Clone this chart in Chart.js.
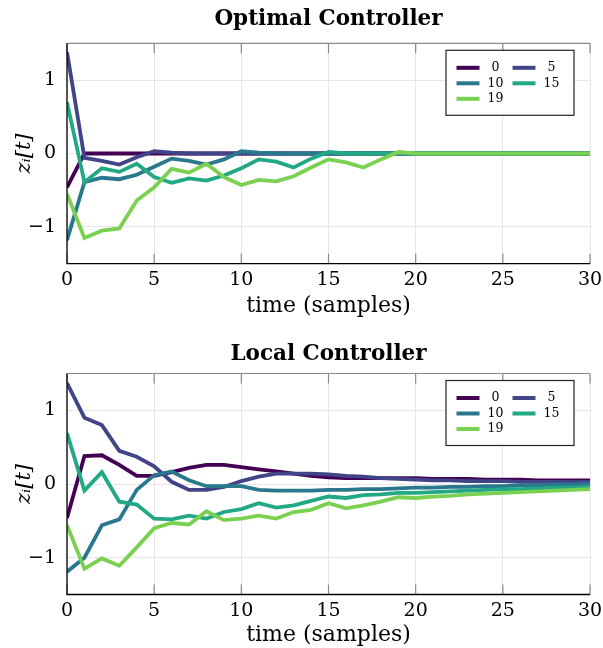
<!DOCTYPE html>
<html>
<head>
  <title>Controllers</title>
  <script src="https://cdn.jsdelivr.net/npm/chart.js@4"></script>
  <style>
    body { margin: 0; background: #fff; }
    .box { position: absolute; left: 0; width: 603px; height: 324px; }
  </style>
</head>
<body>
  <div class="box" style="top:0"><canvas id="optimal"></canvas></div>
  <div class="box" style="top:324px"><canvas id="local"></canvas></div>
  <script>
    const steps = [0,1,2,3,4,5,6,7,8,9,10,11,12,13,14,15,16,17,18,19,20,21,22,23,24,25,26,27,28,29,30];
    const agents = ['0', '5', '10', '15', '19'];
    const colors = ['#440154', '#414487', '#2a788e', '#22a884', '#7ad151'];
    const xTicks = [0, 5, 10, 15, 20, 25, 30];
    const yTicks = [-1, 0, 1];

    // optimal controller
    const opt0  = [-0.46,0,0,0,0,0,0,0,0,0,0,0,0,0,0,0,0,0,0,0,0,0,0,0,0,0,0,0,0,0,0];
    const opt5  = [1.38,-0.06,-0.10,-0.15,-0.05,0.03,0.01,0,0,0,0,0,0,0,0,0,0,0,0,0,0,0,0,0,0,0,0,0,0,0,0];
    const opt10 = [-1.18,-0.39,-0.33,-0.35,-0.29,-0.18,-0.07,-0.10,-0.15,-0.08,0.03,0.01,0,0,0,0,0,0,0,0,0,0,0,0,0,0,0,0,0,0,0];
    const opt15 = [0.70,-0.39,-0.20,-0.25,-0.14,-0.32,-0.40,-0.34,-0.37,-0.30,-0.20,-0.08,-0.11,-0.19,-0.07,0.02,0,0,0,0,0,0,0,0,0,0,0,0,0,0,0];
    const opt19 = [-0.55,-1.15,-1.05,-1.02,-0.64,-0.46,-0.21,-0.26,-0.14,-0.32,-0.43,-0.36,-0.38,-0.31,-0.19,-0.08,-0.12,-0.19,-0.08,0.02,0,0,0,0,0,0,0,0,0,0,0];

    // local controller
    const loc0  = [-0.46,0.38,0.39,0.26,0.11,0.11,0.16,0.22,0.26,0.26,0.23,0.20,0.17,0.14,0.11,0.09,0.08,0.08,0.08,0.08,0.08,0.07,0.07,0.07,0.06,0.06,0.06,0.05,0.05,0.05,0.05];
    const loc5  = [1.37,0.90,0.80,0.45,0.37,0.24,0.03,-0.08,-0.08,-0.04,0.04,0.10,0.14,0.14,0.14,0.13,0.11,0.10,0.08,0.07,0.06,0.05,0.05,0.04,0.04,0.04,0.03,0.03,0.03,0.03,0.03];
    const loc10 = [-1.19,-1.00,-0.56,-0.48,-0.08,0.12,0.17,0.05,-0.03,-0.03,-0.03,-0.08,-0.09,-0.09,-0.09,-0.08,-0.08,-0.07,-0.07,-0.06,-0.05,-0.05,-0.04,-0.04,-0.03,-0.03,-0.02,-0.02,-0.01,-0.01,0.00];
    const loc15 = [0.69,-0.09,0.16,-0.24,-0.28,-0.47,-0.48,-0.43,-0.47,-0.38,-0.34,-0.26,-0.32,-0.29,-0.23,-0.17,-0.19,-0.15,-0.14,-0.12,-0.12,-0.11,-0.10,-0.09,-0.08,-0.07,-0.07,-0.06,-0.05,-0.05,-0.04];
    const loc19 = [-0.56,-1.15,-1.01,-1.11,-0.86,-0.60,-0.53,-0.55,-0.37,-0.49,-0.47,-0.43,-0.47,-0.38,-0.35,-0.26,-0.33,-0.29,-0.24,-0.18,-0.19,-0.17,-0.16,-0.14,-0.13,-0.12,-0.11,-0.10,-0.09,-0.08,-0.07];

    const serif = "'DejaVu Serif', serif";

    // frame, inward ticks and the boxed two-column legend
    const framePlugin = {
      id: 'frame',
      afterDatasetsDraw(chart) {
        const { ctx, chartArea: a, scales } = chart;
        ctx.save();
        ctx.lineWidth = 1.2;
        ctx.strokeStyle = '#8a8a8a';
        xTicks.forEach(v => {
          const x = scales.x.getPixelForValue(v);
          ctx.beginPath();
          ctx.moveTo(x, a.bottom); ctx.lineTo(x, a.bottom - 10);
          ctx.moveTo(x, a.top); ctx.lineTo(x, a.top + 10);
          ctx.stroke();
        });
        ctx.beginPath();
        ctx.moveTo(a.left, a.top); ctx.lineTo(a.right, a.top);
        ctx.stroke();
        ctx.strokeStyle = '#000';
        ctx.lineWidth = 1.3;
        ctx.beginPath();
        ctx.moveTo(a.left, a.top); ctx.lineTo(a.left, a.bottom); ctx.lineTo(a.right, a.bottom);
        ctx.stroke();

        // legend
        const bx = a.right - 144, by = a.top + 7, bw = 128, bh = 65;
        ctx.fillStyle = '#fff';
        ctx.fillRect(bx, by, bw, bh);
        ctx.strokeStyle = '#222';
        ctx.lineWidth = 1.2;
        ctx.strokeRect(bx, by, bw, bh);
        ctx.font = '12.5px ' + serif;
        ctx.textAlign = 'center';
        ctx.textBaseline = 'middle';
        chart.data.datasets.forEach((ds, i) => {
          const col = i % 2, row = Math.floor(i / 2);
          const lx = bx + 10.5 + col * 56, ly = by + 17.5 + row * 15.5;
          ctx.strokeStyle = ds.borderColor;
          ctx.lineWidth = 4;
          ctx.beginPath();
          ctx.moveTo(lx, ly); ctx.lineTo(lx + 23, ly);
          ctx.stroke();
          ctx.fillStyle = '#000';
          ctx.fillText(ds.label, lx + 39, ly);
        });
        ctx.restore();
      }
    };

    function makeChart(id, title, series, pad) {
      return new Chart(document.getElementById(id), {
        type: 'line',
        data: {
          datasets: series.map((vals, i) => ({
            label: agents[i],
            data: steps.map((s, k) => ({ x: s, y: vals[k] })),
            borderColor: colors[i],
            borderWidth: 3.8,
            pointRadius: 0,
            tension: 0,
            order: series.length - i
          }))
        },
        options: {
          responsive: false,
          animation: false,
          layout: { padding: { left: 0, right: 13, top: 0, bottom: 0 } },
          plugins: {
            legend: { display: false },
            tooltip: { enabled: false },
            title: {
              display: true,
              fullSize: false,
              text: title,
              color: '#000',
              font: { family: serif, size: 21.5, weight: 'bold', lineHeight: 1.2 },
              padding: { top: pad.titleTop, bottom: pad.titleBottom }
            }
          },
          scales: {
            x: {
              type: 'linear',
              min: 0,
              max: 30,
              afterBuildTicks: s => { s.ticks = xTicks.map(v => ({ value: v })); },
              afterFit: s => { s.height = pad.xHeight; s.paddingLeft = 0; s.paddingRight = 0; },
              grid: { color: '#e6e6e6', drawTicks: false },
              border: { display: false },
              ticks: { color: '#000', padding: 5, font: { family: serif, size: 19 } },
              title: {
                display: true,
                text: 'time (samples)',
                color: '#000',
                font: { family: serif, size: 22, lineHeight: 1.0 },
                padding: { top: 0, bottom: pad.xTitleBottom }
              }
            },
            y: {
              min: -1.5,
              max: 1.5,
              afterBuildTicks: s => { s.ticks = yTicks.map(v => ({ value: v })); },
              afterFit: s => { s.width = 67; s.paddingTop = 0; s.paddingBottom = 0; },
              grid: { color: '#e6e6e6', drawTicks: false },
              border: { display: false },
              ticks: {
                color: '#000',
                padding: 11,
                font: { family: serif, size: 19 },
                callback: v => String(v).replace('-', '\u2212')
              },
              title: {
                display: true,
                text: 'z\u1D62[t]',
                color: '#000',
                font: { family: serif, size: 21, style: 'italic', lineHeight: 1.2 },
                padding: { top: 12, bottom: 0 }
              }
            }
          }
        },
        plugins: [framePlugin]
      });
    }

    for (const id of ['optimal', 'local']) {
      const c = document.getElementById(id);
      c.width = 603; c.height = 324;
    }

    makeChart('optimal', 'Optimal Controller', [opt0, opt5, opt10, opt15, opt19],
      { titleTop: 6.5, titleBottom: 11, xHeight: 60.3, xTitleBottom: 7 });
    makeChart('local', 'Local Controller', [loc0, loc5, loc10, loc15, loc19],
      { titleTop: 18, titleBottom: 5.7, xHeight: 53.5, xTitleBottom: 2 });
  </script>
</body>
</html>
